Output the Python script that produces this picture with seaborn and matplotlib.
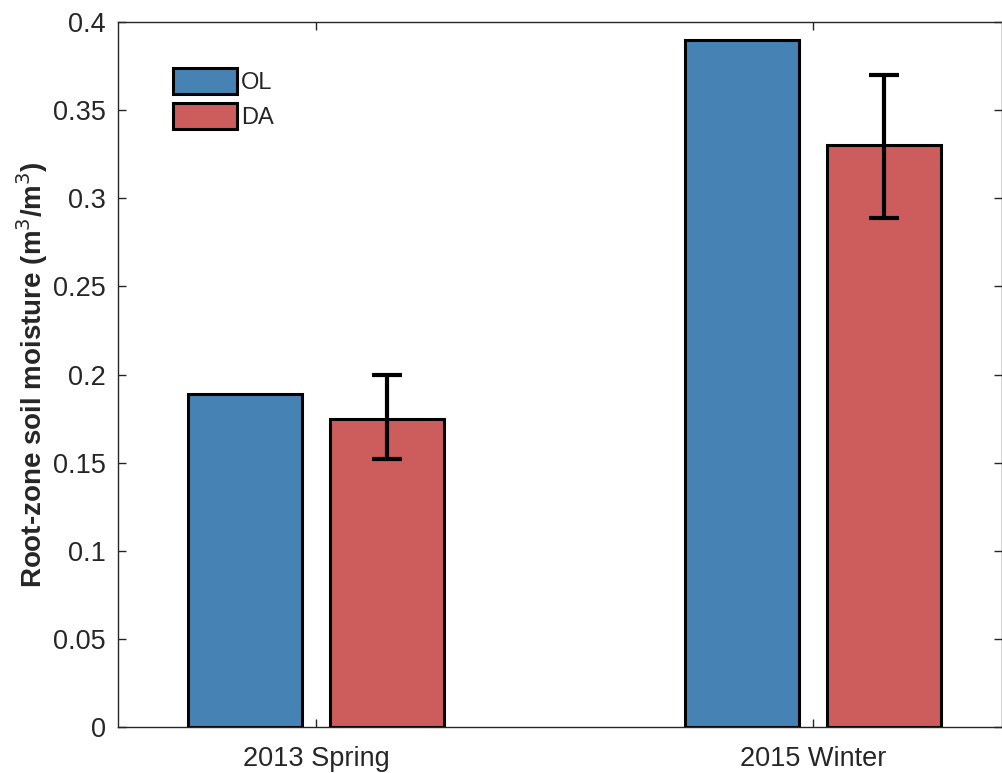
import matplotlib
matplotlib.use('Agg')
import matplotlib.pyplot as plt
import seaborn as sns
import pandas as pd
import numpy as np
from matplotlib.ticker import FuncFormatter

sns.set_style('ticks')
plt.rcParams['font.family'] = ['Liberation Sans', 'DejaVu Sans']

# dati
periodi = ['2013 Spring', '2015 Winter']
ol = [0.189, 0.390]
da = [0.175, 0.330]
da_lo = [0.152, 0.289]
da_hi = [0.200, 0.370]
colori = {'OL': '#4682B4', 'DA': '#CD5C5C'}

df = pd.DataFrame({'Periodo': periodi * 2,
                   'Valore': ol + da,
                   'Run': ['OL'] * 2 + ['DA'] * 2})

fig = plt.figure(figsize=(10.02, 7.73), dpi=100)
ax = fig.add_axes([0.1178, 0.0595, 0.8822, 0.912])
sns.barplot(data=df, x='Periodo', y='Valore', hue='Run', palette=colori,
            saturation=1, width=0.573, gap=0.2, edgecolor='black',
            linewidth=2.2, errorbar=None, ax=ax)

# barre d'errore solo per DA
bars_da = [p for p in ax.patches if p.get_height() > 0][2:4]
xs = [p.get_x() + p.get_width() / 2 for p in bars_da]
yerr = [np.array(da) - np.array(da_lo), np.array(da_hi) - np.array(da)]
ax.errorbar(xs, da, yerr=yerr, fmt='none', ecolor='black', elinewidth=3,
            capsize=11, capthick=3, zorder=5)

ax.set_ylim(0, 0.4)
ax.set_xlim(-0.399, 1.381)
ax.set_yticks(np.arange(0, 0.401, 0.05))
ax.yaxis.set_major_formatter(FuncFormatter(lambda v, p: '%g' % round(v, 2)))
ax.tick_params(axis='both', direction='in', labelsize=19.5, length=6, width=1,
               color='#262626', labelcolor='#262626', top=True, right=True)
ax.tick_params(axis='x', pad=14)
ax.tick_params(axis='y', pad=9)
for s in ax.spines.values():
    s.set_color('#262626')
    s.set_linewidth(1)
ax.set_xlabel('')
ax.set_ylabel('Root-zone soil moisture (m$^3$/m$^3$)', fontsize=20,
              fontweight='bold', labelpad=2)

leg = ax.legend(loc='upper left', bbox_to_anchor=(0.038, 0.965), frameon=False,
                fontsize=17, handlelength=2.7, handleheight=1.35,
                handletextpad=0.2, labelspacing=0.35)

fig.savefig('out.png', dpi=100)
